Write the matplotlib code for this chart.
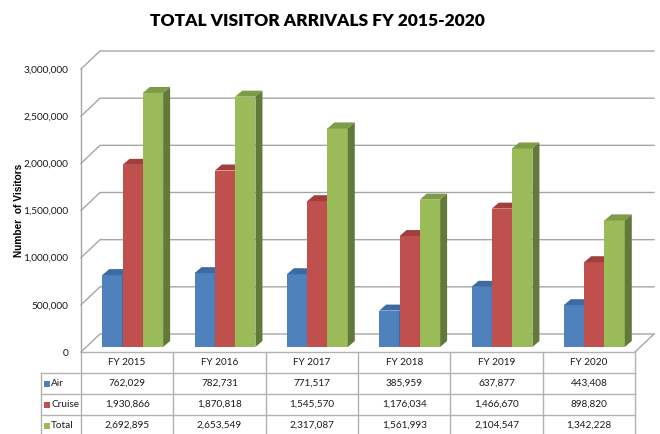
import numpy as np
import matplotlib
matplotlib.use("Agg")
import matplotlib.pyplot as plt
from matplotlib.patches import Polygon, Rectangle

years = ["FY 2015", "FY 2016", "FY 2017", "FY 2018", "FY 2019", "FY 2020"]
series_names = ["Air", "Cruise", "Total"]
air = [762029, 782731, 771517, 385959, 637877, 443408]
cruise = [1930866, 1870818, 1545570, 1176034, 1466670, 898820]
total = [2692895, 2653549, 2317087, 1561993, 2104547, 1342228]
y_ticks = [0, 500000, 1000000, 1500000, 2000000, 2500000, 3000000]

front_colors = ["#4F81BD", "#C0504D", "#9BBB59"]
top_colors = ["#3D6AA1", "#A23F3C", "#7E9B47"]
side_colors = ["#2E5283", "#86302D", "#62793A"]
grid_color = "#A6A6A6"
table_color = "#B2B2B2"
text_color = "#1A1A1A"

# Lato is the closest installed match to Excel's Calibri
font = ["Lato", "DejaVu Sans"]

W, H = 660, 434
fig = plt.figure(figsize=(W / 100, H / 100), dpi=100)
ax = fig.add_axes([81 / W, (H - 352) / H, 554 / W, 283 / H])
ax.set_xlim(0, len(years))
ax.set_ylim(0, 3000000)
for s in ax.spines.values():
    s.set_visible(False)

# one pixel in data units
px_x = len(years) / 554
px_y = 3000000 / 283

# walls / floor depth and bar depth
wall_dx, wall_dy = 19 * px_x, 18 * px_y
bar_dx, bar_dy = 7 * px_x, 6 * px_y
shift = 5.5 * px_x
base = 5 * px_y
w = 20.3 * px_x

# side wall diagonals + back wall gridlines
for t in y_ticks:
    ax.plot([0, wall_dx, len(years) + wall_dx], [t, t + wall_dy, t + wall_dy],
            color=grid_color, lw=1, clip_on=False, zorder=1)
ax.plot([0, 0], [0, y_ticks[-1]], color=grid_color, lw=1, clip_on=False, zorder=1)
ax.plot([len(years), len(years) + wall_dx], [0, wall_dy], color=grid_color, lw=1,
        clip_on=False, zorder=1)

# 3d-ish bars
series = [air, cruise, total]
for k, vals in enumerate(series):
    xs = np.arange(len(years)) + 0.5 + shift + (k - 1) * w
    ax.bar(xs, vals, width=w, bottom=base, color=front_colors[k], linewidth=0, zorder=3 + k)
    for x, v in zip(xs, vals):
        top = base + v
        left, right = x - w / 2, x + w / 2
        ax.add_patch(Polygon([(left, top), (right, top), (right + bar_dx, top + bar_dy),
                              (left + bar_dx, top + bar_dy)],
                             closed=True, facecolor=top_colors[k], linewidth=0, zorder=3 + k))
        ax.add_patch(Polygon([(right, base), (right + bar_dx, base + bar_dy),
                              (right + bar_dx, top + bar_dy), (right, top)],
                             closed=True, facecolor=side_colors[k], linewidth=0, zorder=3 + k))

ax.set_xticks([])
ax.set_yticks(y_ticks)
ax.set_yticklabels([f"{t:,}" for t in y_ticks], family=font)
ax.tick_params(axis="y", length=0, pad=9, labelsize=7.3, labelcolor=text_color)

# data table under the plot
rh = 21 * px_y
n = len(years)
xl = -40 * px_x
rows_y = [0, -rh, -2 * rh, -3 * rh, -4 * rh]
kw = dict(color=table_color, lw=1, clip_on=False, zorder=2)
ax.plot([0, n], [0, 0], **kw)
for yy in rows_y[1:4]:
    ax.plot([xl, n], [yy, yy], **kw)
for j in range(n + 1):
    ax.plot([j, j], [0, rows_y[-1]], **kw)
ax.plot([xl, xl], [rows_y[1], rows_y[-1]], **kw)

tkw = dict(ha="center", va="center", fontsize=7.2, color=text_color,
           family=font, clip_on=False)
for j, yr in enumerate(years):
    ax.text(j + 0.5, -0.5 * rh, yr, **tkw)
for i, (name, vals) in enumerate(zip(series_names, series)):
    yc = -(i + 1.5) * rh
    ax.add_patch(Rectangle((xl + 3 * px_x, yc - 3 * px_y), 6 * px_x, 6 * px_y,
                           facecolor=front_colors[i], linewidth=0, clip_on=False))
    ax.text(xl + 10 * px_x, yc, name, ha="left", va="center", fontsize=7.2,
            color=text_color, family=font, clip_on=False)
    for j, v in enumerate(vals):
        ax.text(j + 0.5, yc, f"{v:,}", **tkw)

fig.text(317 / W, 1 - 21 / H, "TOTAL VISITOR ARRIVALS FY 2015-2020", ha="center", va="center",
         fontsize=12.5, fontweight="heavy", family=font, color="#000000")
fig.text(19 / W, 1 - 210 / H, "Number  of Visitors", rotation=90, ha="center", va="center",
         fontsize=7.3, fontweight="bold", family=["Liberation Sans", "DejaVu Sans"], color="#000000")

fig.savefig("out.png", dpi=100)
